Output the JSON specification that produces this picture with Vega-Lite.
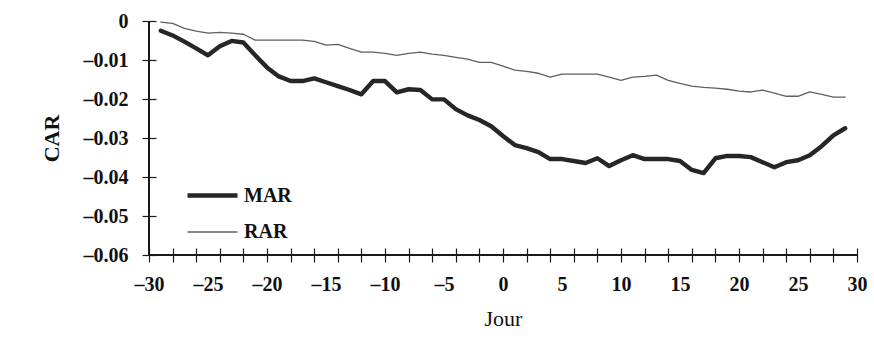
{
  "$schema": "https://vega.github.io/schema/vega-lite/v6.json",
  "width": 708,
  "height": 234,
  "autosize": "none",
  "padding": {"left": 149, "top": 21, "right": 17, "bottom": 94},
  "background": "white",
  "config": {
    "view": {"stroke": null},
    "font": "Liberation Serif",
    "axis": {"grid": false, "domain": false, "tickColor": "#1a1a1a", "tickWidth": 1.2, "labelColor": "#111", "titleColor": "#111", "labelFont": "Liberation Serif", "titleFont": "Liberation Serif", "labelOverlap": false}
  },
  "data": {
    "values": [
      {"day": -29, "series": "MAR", "car": -0.0025}, {"day": -28, "series": "MAR", "car": -0.0037}, {"day": -27, "series": "MAR", "car": -0.0053}, {"day": -26, "series": "MAR", "car": -0.0070}, {"day": -25, "series": "MAR", "car": -0.0088}, {"day": -24, "series": "MAR", "car": -0.0065}, {"day": -23, "series": "MAR", "car": -0.0051}, {"day": -22, "series": "MAR", "car": -0.0055}, {"day": -21, "series": "MAR", "car": -0.0088}, {"day": -20, "series": "MAR", "car": -0.0119},
      {"day": -19, "series": "MAR", "car": -0.0142}, {"day": -18, "series": "MAR", "car": -0.0154}, {"day": -17, "series": "MAR", "car": -0.0154}, {"day": -16, "series": "MAR", "car": -0.0147}, {"day": -15, "series": "MAR", "car": -0.0157}, {"day": -14, "series": "MAR", "car": -0.0167}, {"day": -13, "series": "MAR", "car": -0.0177}, {"day": -12, "series": "MAR", "car": -0.0188}, {"day": -11, "series": "MAR", "car": -0.0154}, {"day": -10, "series": "MAR", "car": -0.0154},
      {"day": -9, "series": "MAR", "car": -0.0183}, {"day": -8, "series": "MAR", "car": -0.0175}, {"day": -7, "series": "MAR", "car": -0.0177}, {"day": -6, "series": "MAR", "car": -0.0201}, {"day": -5, "series": "MAR", "car": -0.0201}, {"day": -4, "series": "MAR", "car": -0.0226}, {"day": -3, "series": "MAR", "car": -0.0242}, {"day": -2, "series": "MAR", "car": -0.0254}, {"day": -1, "series": "MAR", "car": -0.0270}, {"day": 0, "series": "MAR", "car": -0.0295},
      {"day": 1, "series": "MAR", "car": -0.0318}, {"day": 2, "series": "MAR", "car": -0.0326}, {"day": 3, "series": "MAR", "car": -0.0336}, {"day": 4, "series": "MAR", "car": -0.0354}, {"day": 5, "series": "MAR", "car": -0.0354}, {"day": 6, "series": "MAR", "car": -0.0359}, {"day": 7, "series": "MAR", "car": -0.0364}, {"day": 8, "series": "MAR", "car": -0.0352}, {"day": 9, "series": "MAR", "car": -0.0372}, {"day": 10, "series": "MAR", "car": -0.0357},
      {"day": 11, "series": "MAR", "car": -0.0344}, {"day": 12, "series": "MAR", "car": -0.0354}, {"day": 13, "series": "MAR", "car": -0.0354}, {"day": 14, "series": "MAR", "car": -0.0354}, {"day": 15, "series": "MAR", "car": -0.0359}, {"day": 16, "series": "MAR", "car": -0.0382}, {"day": 17, "series": "MAR", "car": -0.0390}, {"day": 18, "series": "MAR", "car": -0.0352}, {"day": 19, "series": "MAR", "car": -0.0346}, {"day": 20, "series": "MAR", "car": -0.0346},
      {"day": 21, "series": "MAR", "car": -0.0349}, {"day": 22, "series": "MAR", "car": -0.0362}, {"day": 23, "series": "MAR", "car": -0.0375}, {"day": 24, "series": "MAR", "car": -0.0362}, {"day": 25, "series": "MAR", "car": -0.0357}, {"day": 26, "series": "MAR", "car": -0.0344}, {"day": 27, "series": "MAR", "car": -0.0321}, {"day": 28, "series": "MAR", "car": -0.0293}, {"day": 29, "series": "MAR", "car": -0.0275},
      {"day": -29, "series": "RAR", "car": -0.0003}, {"day": -28, "series": "RAR", "car": -0.0006}, {"day": -27, "series": "RAR", "car": -0.0019}, {"day": -26, "series": "RAR", "car": -0.0026}, {"day": -25, "series": "RAR", "car": -0.0031}, {"day": -24, "series": "RAR", "car": -0.0029}, {"day": -23, "series": "RAR", "car": -0.0031}, {"day": -22, "series": "RAR", "car": -0.0034}, {"day": -21, "series": "RAR", "car": -0.0049}, {"day": -20, "series": "RAR", "car": -0.0049},
      {"day": -19, "series": "RAR", "car": -0.0049}, {"day": -18, "series": "RAR", "car": -0.0049}, {"day": -17, "series": "RAR", "car": -0.0049}, {"day": -16, "series": "RAR", "car": -0.0052}, {"day": -15, "series": "RAR", "car": -0.0062}, {"day": -14, "series": "RAR", "car": -0.0060}, {"day": -13, "series": "RAR", "car": -0.0070}, {"day": -12, "series": "RAR", "car": -0.0080}, {"day": -11, "series": "RAR", "car": -0.0080}, {"day": -10, "series": "RAR", "car": -0.0083},
      {"day": -9, "series": "RAR", "car": -0.0088}, {"day": -8, "series": "RAR", "car": -0.0083}, {"day": -7, "series": "RAR", "car": -0.0080}, {"day": -6, "series": "RAR", "car": -0.0085}, {"day": -5, "series": "RAR", "car": -0.0088}, {"day": -4, "series": "RAR", "car": -0.0093}, {"day": -3, "series": "RAR", "car": -0.0098}, {"day": -2, "series": "RAR", "car": -0.0106}, {"day": -1, "series": "RAR", "car": -0.0106}, {"day": 0, "series": "RAR", "car": -0.0116},
      {"day": 1, "series": "RAR", "car": -0.0126}, {"day": 2, "series": "RAR", "car": -0.0129}, {"day": 3, "series": "RAR", "car": -0.0134}, {"day": 4, "series": "RAR", "car": -0.0144}, {"day": 5, "series": "RAR", "car": -0.0136}, {"day": 6, "series": "RAR", "car": -0.0136}, {"day": 7, "series": "RAR", "car": -0.0136}, {"day": 8, "series": "RAR", "car": -0.0136}, {"day": 9, "series": "RAR", "car": -0.0144}, {"day": 10, "series": "RAR", "car": -0.0152},
      {"day": 11, "series": "RAR", "car": -0.0144}, {"day": 12, "series": "RAR", "car": -0.0142}, {"day": 13, "series": "RAR", "car": -0.0139}, {"day": 14, "series": "RAR", "car": -0.0152}, {"day": 15, "series": "RAR", "car": -0.0160}, {"day": 16, "series": "RAR", "car": -0.0167}, {"day": 17, "series": "RAR", "car": -0.0170}, {"day": 18, "series": "RAR", "car": -0.0172}, {"day": 19, "series": "RAR", "car": -0.0175}, {"day": 20, "series": "RAR", "car": -0.0180},
      {"day": 21, "series": "RAR", "car": -0.0182}, {"day": 22, "series": "RAR", "car": -0.0177}, {"day": 23, "series": "RAR", "car": -0.0185}, {"day": 24, "series": "RAR", "car": -0.0193}, {"day": 25, "series": "RAR", "car": -0.0193}, {"day": 26, "series": "RAR", "car": -0.0182}, {"day": 27, "series": "RAR", "car": -0.0188}, {"day": 28, "series": "RAR", "car": -0.0195}, {"day": 29, "series": "RAR", "car": -0.0195}
    ]
  },
  "layer": [
    {
      "mark": {"type": "line", "strokeJoin": "round", "strokeCap": "round"},
      "encoding": {
        "x": {
          "field": "day", "type": "quantitative",
          "scale": {"domain": [-30, 30], "nice": false, "zero": false},
          "axis": {
            "orient": "bottom", "offset": -7, "tickSize": 14,
            "title": "Jour",
            "titleFontSize": 22, "titleFontWeight": "normal", "titlePadding": 14,
            "values": [-30, -28, -26, -25, -24, -22, -20, -18, -16, -15, -14, -12, -10, -8, -6, -5, -4, -2, 0, 2, 4, 5, 6, 8, 10, 12, 14, 15, 16, 18, 20, 22, 24, 25, 26, 28, 30],
            "labelExpr": "datum.value % 5 === 0 ? replace(datum.label, /[-\u2212]/, '\u2013') : ''",
            "tickOpacity": {"condition": {"test": "datum.value % 2 === 0", "value": 1}, "value": 0},
            "labelOverlap": false, "labelFlush": false, "labelBound": false,
            "labelFontSize": 20, "labelFontWeight": "bold", "labelPadding": 12
          }
        },
        "y": {
          "field": "car", "type": "quantitative",
          "scale": {"domain": [-0.06, 0], "nice": false, "zero": false},
          "axis": {
            "orient": "left", "offset": -7, "tickSize": 14,
            "title": "CAR",
            "titleFontSize": 22, "titleFontWeight": "bold", "titlePadding": 20,
            "values": [0, -0.01, -0.02, -0.03, -0.04, -0.05, -0.06],
            "labelExpr": "datum.value === 0 ? '0' : '\u2013' + format(-datum.value, '.2f')",
            "labelOverlap": false, "labelFlush": false, "labelBound": false,
            "labelFontSize": 20, "labelFontWeight": "bold", "labelPadding": 14
          }
        },
        "color": {
          "field": "series", "type": "nominal",
          "scale": {"domain": ["MAR", "RAR"], "range": ["#262626", "#5f5f5f"]},
          "legend": {
            "title": null, "orient": "none", "legendX": 36, "legendY": 147,
            "symbolType": "stroke", "symbolSize": 2500,
            "labelFont": "Liberation Serif", "labelFontSize": 20, "labelFontWeight": "bold", "labelColor": "#111",
            "rowPadding": 0, "labelOffset": 4, "padding": 0
          }
        },
        "strokeWidth": {
          "field": "series", "type": "nominal",
          "scale": {"domain": ["MAR", "RAR"], "range": [4.4, 1.3]}
        }
      }
    },
    {
      "mark": {"type": "rule", "color": "#1a1a1a", "strokeWidth": 1.2},
      "encoding": {"y": {"datum": -0.06, "type": "quantitative", "axis": null}}
    },
    {
      "mark": {"type": "rule", "color": "#1a1a1a", "strokeWidth": 1.2},
      "encoding": {"x": {"datum": -30, "type": "quantitative", "axis": null}}
    }
  ],
  "resolve": {"axis": {"x": "independent", "y": "independent"}}
}
